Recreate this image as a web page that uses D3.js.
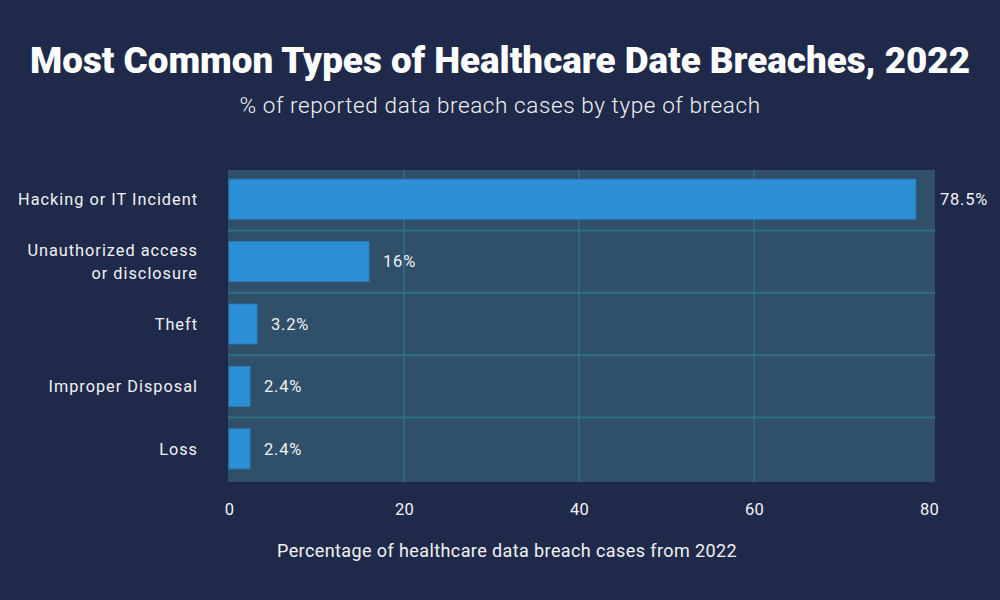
<!DOCTYPE html>
<html><head><meta charset="utf-8">
<script src="https://cdn.jsdelivr.net/npm/d3@7"></script>
<style>body{margin:0;background:#1f2a4b;} svg{display:block;}</style>
</head><body>
<svg id="chart" width="1000" height="600"></svg>
<script>
const categories = [["Hacking or IT Incident"], ["Unauthorized access", "or disclosure"], ["Theft"], ["Improper Disposal"], ["Loss"]];
const values = [78.5, 16, 3.2, 2.4, 2.4];
const valueLabels = ["78.5%", "16%", "3.2%", "2.4%", "2.4%"];
const xTicks = [0, 20, 40, 60, 80];

const svg = d3.select("#chart");
const W = 1000, H = 600;
svg.append("rect").attr("width", W).attr("height", H).attr("fill", "#1f2a4b");

const plot = {left: 228, right: 935, top: 170, bottom: 482};
const x = d3.scaleLinear().domain([0, 80]).range([229, 929]);
const idx = d3.range(values.length);
const y = d3.scaleBand().domain(idx).range([plot.top - 2, plot.bottom - 2]).paddingInner(0.36).paddingOuter(0.18);

svg.append("rect").attr("x", plot.left).attr("y", plot.top)
  .attr("width", plot.right - plot.left).attr("height", plot.bottom - plot.top)
  .attr("fill", "#304f69");

// vertical gridlines
svg.append("g").selectAll("line").data(xTicks.filter(t => t > 0 && t < 80)).join("line")
  .attr("x1", d => x(d)).attr("x2", d => x(d))
  .attr("y1", plot.top).attr("y2", plot.bottom)
  .attr("stroke", "#2e6f86").attr("stroke-width", 1.5);

// horizontal separators
const gap = y.step() * y.paddingInner();
svg.append("g").selectAll("line").data(idx.slice(0, -1)).join("line")
  .attr("x1", plot.left).attr("x2", plot.right)
  .attr("y1", d => y(d) + y.bandwidth() + gap / 2).attr("y2", d => y(d) + y.bandwidth() + gap / 2)
  .attr("stroke", "#2e6f86").attr("stroke-width", 2);

// bars
svg.append("g").selectAll("rect").data(idx).join("rect")
  .attr("x", x(0)).attr("y", d => y(d))
  .attr("width", d => x(values[d]) - x(0)).attr("height", y.bandwidth())
  .attr("fill", "#2d90d6").attr("stroke", "#2a7cbd").attr("stroke-width", 1);

// value labels
svg.append("g").selectAll("text").data(idx).join("text")
  .attr("x", d => x(values[d]) + (d === 0 ? 24 : 14)).attr("y", d => y(d) + y.bandwidth() / 2)
  .attr("dy", "0.35em")
  .attr("fill", "#f2f2f2").attr("font-family", "Roboto, sans-serif")
  .attr("font-size", 16.5).attr("letter-spacing", "0.8px")
  .text(d => valueLabels[d]);

// category labels
const cat = svg.append("g").selectAll("text").data(idx).join("text")
  .attr("text-anchor", "end")
  .attr("fill", "#f2f2f2").attr("font-family", "Roboto, sans-serif")
  .attr("font-size", 16.3).attr("letter-spacing", "1px");
cat.each(function(d) {
  const lines = categories[d];
  const n = lines.length;
  const cy = y(d) + y.bandwidth() / 2;
  d3.select(this).selectAll("tspan").data(lines).join("tspan")
    .attr("x", 198)
    .attr("y", (l, i) => cy + (i - (n - 1) / 2) * 23)
    .attr("dy", "0.35em")
    .text(l => l);
});

// x axis
const axis = svg.append("g").attr("transform", `translate(0,${plot.bottom})`)
  .call(d3.axisBottom(x).tickValues(xTicks).tickSize(0).tickPadding(21));
axis.select(".domain").remove();
axis.selectAll("text").attr("fill", "#f2f2f2").attr("font-family", "Roboto, sans-serif")
  .attr("font-size", 16.5).attr("letter-spacing", "0.3px");

// axis title
svg.append("text").attr("x", 507).attr("y", 557).attr("text-anchor", "middle")
  .attr("fill", "#f2f2f2").attr("font-family", "Roboto, sans-serif")
  .attr("font-size", 18).attr("letter-spacing", "0.4px")
  .text("Percentage of healthcare data breach cases from 2022");

// title
svg.append("text").attr("x", 500).attr("y", 73).attr("text-anchor", "middle")
  .attr("fill", "#ffffff").attr("font-family", "Roboto, sans-serif")
  .attr("font-weight", 900).attr("font-size", 36.8)
  .text("Most Common Types of Healthcare Date Breaches, 2022");

svg.append("text").attr("x", 500).attr("y", 113).attr("text-anchor", "middle")
  .attr("fill", "#f2f2f2").attr("font-family", "Roboto, sans-serif")
  .attr("font-weight", 300).attr("font-size", 22.5).attr("letter-spacing", "0.6px")
  .text("% of reported data breach cases by type of breach");
</script>
</body></html>
